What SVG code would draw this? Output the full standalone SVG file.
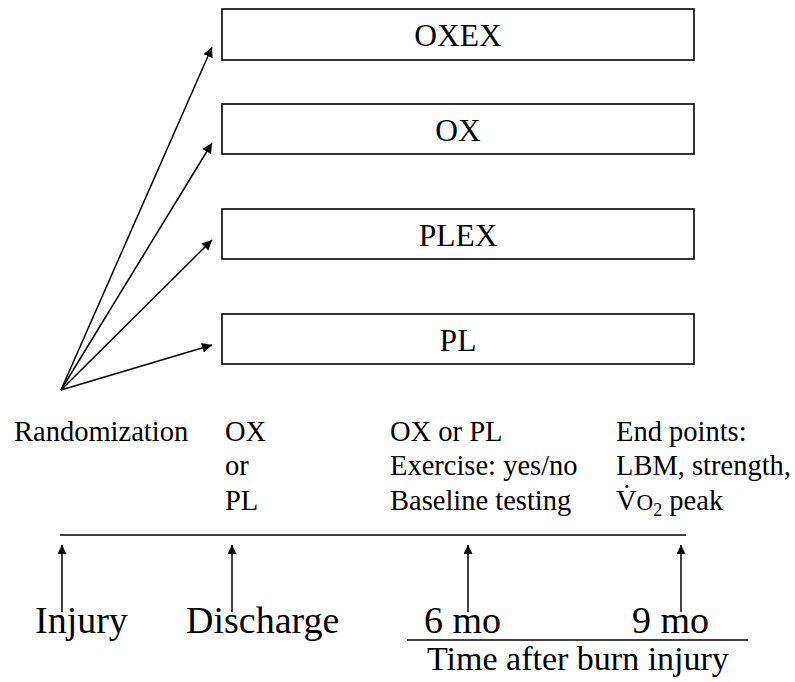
<svg xmlns="http://www.w3.org/2000/svg" width="795" height="682" viewBox="0 0 795 682" font-family="'Liberation Serif', 'DejaVu Serif', serif">
<style>
  text { font-family: "Liberation Serif", "DejaVu Serif", serif; fill: #000; }
  .box { fill: #fff; stroke: #000; stroke-width: 1.6; }
  .lbl { font-size: 31.5px; text-anchor: middle; }
  .note { font-size: 28.5px; }
  .big { font-size: 38px; }
  .axis { font-size: 34px; }
  .conn { stroke: #000; stroke-width: 1.5; fill: none; }
</style>
<defs>
  <marker id="ah" viewBox="0 0 10 10" refX="10" refY="5" markerWidth="9" markerHeight="9" markerUnits="userSpaceOnUse" orient="auto">
    <path d="M0,0 L10,5 L0,10 z" fill="#000"/>
  </marker>
  <marker id="ah2" viewBox="0 0 10 10" refX="10" refY="5" markerWidth="10" markerHeight="10" markerUnits="userSpaceOnUse" orient="auto">
    <path d="M0,0 L10,5 L0,10 z" fill="#000"/>
  </marker>
</defs>

<g id="node-oxex"><rect class="box" x="222" y="9" width="472" height="51"/><text class="lbl" x="458" y="46">OXEX</text></g>
<g id="node-ox"><rect class="box" x="222" y="104" width="472" height="50"/><text class="lbl" x="458" y="141">OX</text></g>
<g id="node-plex"><rect class="box" x="222" y="209" width="472" height="50"/><text class="lbl" x="458" y="246">PLEX</text></g>
<g id="node-pl"><rect class="box" x="222" y="314" width="472" height="50"/><text class="lbl" x="458" y="351">PL</text></g>

<g id="connectors">
  <line class="conn" x1="61" y1="390" x2="212" y2="47" marker-end="url(#ah2)"/>
  <line class="conn" x1="61" y1="390" x2="212" y2="143" marker-end="url(#ah2)"/>
  <line class="conn" x1="61" y1="390" x2="212" y2="240" marker-end="url(#ah2)"/>
  <line class="conn" x1="61" y1="390" x2="212" y2="345" marker-end="url(#ah2)"/>
  <line class="conn" x1="60" y1="535" x2="686" y2="535"/>
  <line class="conn" x1="62" y1="612" x2="62" y2="545" marker-end="url(#ah)"/>
  <line class="conn" x1="232" y1="612" x2="232" y2="545" marker-end="url(#ah)"/>
  <line class="conn" x1="468" y1="612" x2="468" y2="545" marker-end="url(#ah)"/>
  <line class="conn" x1="681" y1="612" x2="681" y2="545" marker-end="url(#ah)"/>
  <line class="conn" x1="407" y1="640" x2="748" y2="640"/>
</g>

<g id="text-randomization"><text class="note" x="14" y="441">Randomization</text></g>
<g id="text-discharge-note">
  <text class="note" x="225" y="441">OX</text>
  <text class="note" x="225" y="475">or</text>
  <text class="note" x="225" y="510">PL</text>
</g>
<g id="text-6mo-note">
  <text class="note" x="390" y="441">OX or PL</text>
  <text class="note" x="390" y="475">Exercise: yes/no</text>
  <text class="note" x="390" y="510">Baseline testing</text>
</g>
<g id="text-9mo-note">
  <text class="note" x="616" y="441">End points:</text>
  <text class="note" x="616" y="475">LBM, strength,</text>
  <text class="note" x="616" y="510">V̇<tspan font-size="23">O</tspan><tspan font-size="18" dy="6">2</tspan><tspan dy="-6"> peak</tspan></text>
</g>

<g id="text-injury"><text class="big" x="35" y="633">Injury</text></g>
<g id="text-discharge"><text class="big" x="186" y="633">Discharge</text></g>
<g id="text-6mo"><text class="big" x="424" y="633">6 mo</text></g>
<g id="text-9mo"><text class="big" x="632" y="633">9 mo</text></g>
<g id="text-time"><text class="axis" x="427" y="670">Time after burn injury</text></g>
</svg>
